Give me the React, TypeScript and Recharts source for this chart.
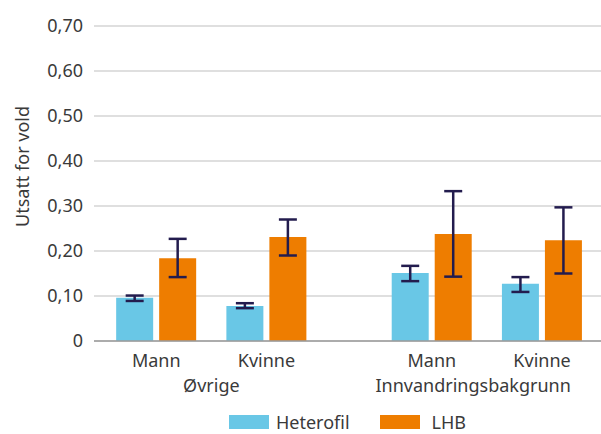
import { BarChart, Bar, XAxis, YAxis, CartesianGrid, ErrorBar, Legend } from 'recharts';

const categories = ['Mann', 'Kvinne', 'Mann', 'Kvinne'];
const slots = [1, 3, 6, 8];
const groups = ['Øvrige', 'Innvandringsbakgrunn'];
const groupSlots = [2, 6.75];

const heterofil = [0.096, 0.078, 0.151, 0.127];
const heterofilLow = [0.089, 0.073, 0.133, 0.109];
const heterofilHigh = [0.101, 0.084, 0.167, 0.142];

const lhb = [0.184, 0.231, 0.238, 0.224];
const lhbLow = [0.142, 0.19, 0.143, 0.15];
const lhbHigh = [0.227, 0.27, 0.333, 0.297];

const yTicks = [0, 0.1, 0.2, 0.3, 0.4, 0.5, 0.6, 0.7];

const data = categories.map((name, i) => ({
  name,
  slot: slots[i],
  heterofil: heterofil[i],
  heterofilErr: [heterofil[i] - heterofilLow[i], heterofilHigh[i] - heterofil[i]],
  lhb: lhb[i],
  lhbErr: [lhb[i] - lhbLow[i], lhbHigh[i] - lhb[i]],
}));

const BLUE = '#69c7e6';
const ORANGE = '#ee7d00';
const TEXT = '#3a3a3a';
const ERR = '#231c4e';
const FS = 18;

const fmtY = (v: number) => (v === 0 ? '0' : v.toFixed(2).replace('.', ','));

const LegendBox = () => (
  <div
    style={{
      display: 'flex',
      justifyContent: 'center',
      alignItems: 'center',
      paddingLeft: 94,
      paddingTop: 4,
      height: 28,
      boxSizing: 'border-box',
      fontSize: FS,
      lineHeight: '18px',
      color: TEXT,
    }}
  >
    {[
      { label: 'Heterofil', color: BLUE },
      { label: 'LHB', color: ORANGE },
    ].map((it, i) => (
      <div key={it.label} style={{ display: 'flex', alignItems: 'center', marginLeft: i ? 30 : 0 }}>
        <span style={{ display: 'inline-block', width: 40, height: 14, background: it.color, marginRight: i ? 12 : 7 }} />
        <span>{it.label}</span>
      </div>
    ))}
  </div>
);

const YLabel = ({ viewBox }: any) => {
  const x = 22;
  const y = viewBox.y + viewBox.height / 2 - 17;
  return (
    <text x={x} y={y} transform={`rotate(-90, ${x}, ${y})`} textAnchor="middle" dominantBaseline="central" fill={TEXT} fontSize={FS}>
      Utsatt for vold
    </text>
  );
};

export default function App() {
  return (
    <div style={{ position: 'absolute', left: 0, top: 0, fontFamily: '"Noto Sans", sans-serif' }}>
      <BarChart width={601} height={434} data={data} margin={{ top: 26, right: 0, bottom: 0, left: 0 }} barGap={6}>
        <CartesianGrid vertical={false} stroke="#d4d4d4" strokeWidth={1.5} />
        <XAxis
          xAxisId="cat"
          dataKey="slot"
          type="number"
          domain={[-0.13, 9.07]}
          ticks={slots}
          tickFormatter={(v: number) => categories[slots.indexOf(v)]}
          height={30}
          tickSize={0}
          tickMargin={13}
          tickLine={false}
          axisLine={{ stroke: '#9b9b9b', strokeWidth: 1.5 }}
          tick={{ fill: TEXT, fontSize: FS }}
          interval={0}
        />
        <XAxis
          xAxisId="group"
          dataKey="slot"
          type="number"
          domain={[-0.13, 9.07]}
          ticks={groupSlots}
          tickFormatter={(v: number) => groups[groupSlots.indexOf(v)]}
          height={35}
          tickSize={0}
          tickMargin={8}
          tickLine={false}
          axisLine={false}
          tick={{ fill: TEXT, fontSize: FS }}
          interval={0}
          allowDataOverflow
        />
        <YAxis
          domain={[0, 0.7]}
          ticks={yTicks}
          tickFormatter={fmtY}
          width={94}
          tickSize={0}
          tickMargin={11}
          tickLine={false}
          axisLine={false}
          tick={{ fill: TEXT, fontSize: FS }}
          interval={0}
          label={<YLabel />}
        />
        <Legend verticalAlign="bottom" height={28} content={<LegendBox />} wrapperStyle={{ left: 0, bottom: 0, width: 601 }} />
        <Bar xAxisId="cat" dataKey="heterofil" name="Heterofil" fill={BLUE} barSize={37} isAnimationActive={false}>
          <ErrorBar dataKey="heterofilErr" direction="y" width={9} strokeWidth={2.5} stroke={ERR} />
        </Bar>
        <Bar xAxisId="cat" dataKey="lhb" name="LHB" fill={ORANGE} barSize={37} isAnimationActive={false}>
          <ErrorBar dataKey="lhbErr" direction="y" width={9} strokeWidth={2.5} stroke={ERR} />
        </Bar>
      </BarChart>
    </div>
  );
}
